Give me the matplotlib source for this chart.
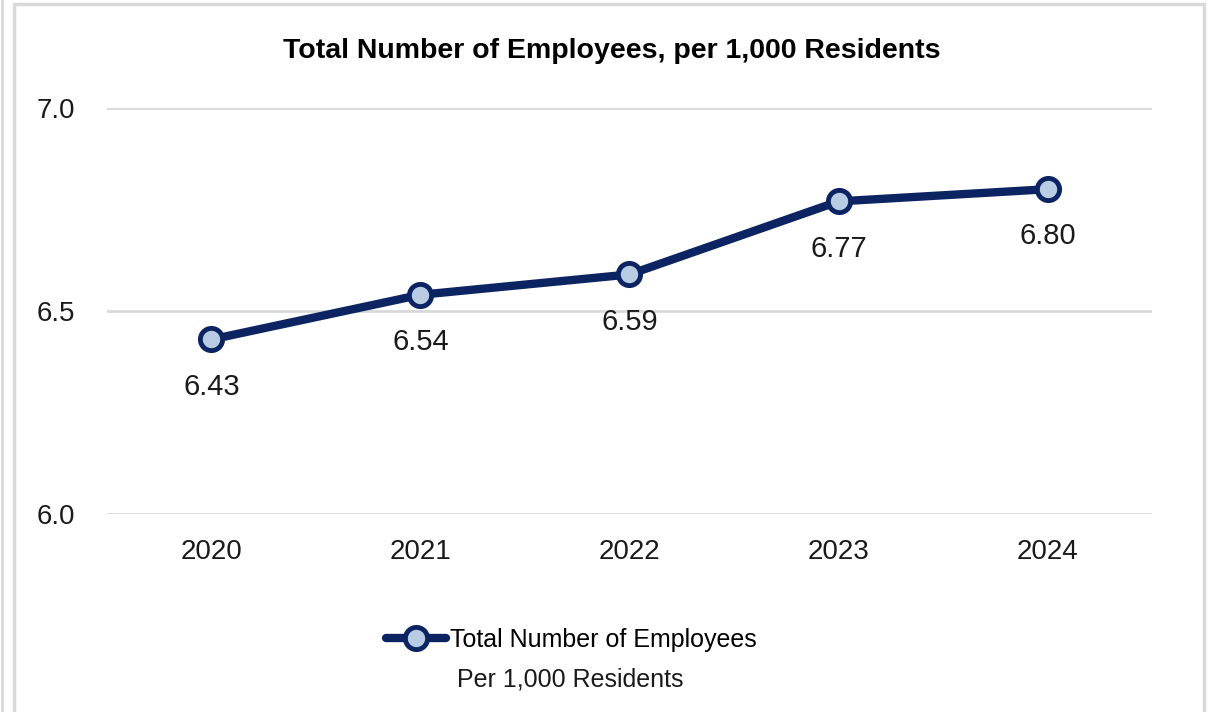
import matplotlib.pyplot as plt
from matplotlib.patches import Rectangle
from matplotlib.lines import Line2D

years = ['2020', '2021', '2022', '2023', '2024']
employees = [6.43, 6.54, 6.59, 6.77, 6.80]
y_ticks = [6.0, 6.5, 7.0]

navy = '#0c2461'
light = '#b8cce4'
grid_c = '#d9d9d9'

plt.rcParams['font.family'] = ['Liberation Sans', 'DejaVu Sans']

fig = plt.figure(figsize=(12.17, 7.12), dpi=100)
ax = fig.add_axes([0.0879, 0.2781, 0.8587, 0.5702])

x = list(range(len(years)))
ax.plot(x, employees, color=navy, linewidth=6, marker='o', markersize=16,
        markerfacecolor=light, markeredgecolor=navy, markeredgewidth=3.5,
        solid_capstyle='round', zorder=3)

for xi, v in zip(x, employees):
    ax.annotate(f'{v:.2f}', (xi, v), xytext=(0, -34), textcoords='offset points',
                ha='center', va='center', fontsize=21, color='#1a1a1a')

ax.set_xlim(-0.5, len(years) - 0.5)
ax.set_ylim(6.0, 7.0)
ax.set_yticks(y_ticks)
ax.set_yticklabels([f'{t:.1f}' for t in y_ticks])
ax.set_xticks(x)
ax.set_xticklabels(years)
ax.tick_params(axis='both', length=0, labelsize=20, colors='#1a1a1a')
ax.tick_params(axis='y', pad=23)
ax.tick_params(axis='x', pad=18)
ax.yaxis.grid(True, color=grid_c, linewidth=2)
ax.set_axisbelow(True)
for s in ax.spines.values():
    s.set_visible(False)

fig.text(0.503, 0.928, 'Total Number of Employees, per 1,000 Residents',
         ha='center', va='center', fontsize=20.5, fontweight='bold')

# legend: handle sits on the first line, second line wraps underneath
handle = Line2D([], [], color=navy, linewidth=6, marker='o', markersize=16,
                markerfacecolor=light, markeredgecolor=navy, markeredgewidth=3.5,
                solid_capstyle='round')
fig.legend([handle], ['Total Number of Employees'],
           loc='center left', bbox_to_anchor=(0.307, 0.101), frameon=False,
           fontsize=18, handlelength=2.4, handletextpad=0.15, borderpad=0)
fig.text(0.3755, 0.046, 'Per 1,000 Residents', ha='left', va='center',
         fontsize=18, color='#1a1a1a')

# outer frame
fig.patches.append(Rectangle((14 / 1217, -0.01), (1204 - 14) / 1217, 1 - 4 / 712 + 0.01,
                             transform=fig.transFigure, fill=False,
                             edgecolor=grid_c, linewidth=2.5))
fig.add_artist(Line2D([2 / 1217, 2 / 1217], [0, 1], transform=fig.transFigure,
                      color=grid_c, linewidth=2))

fig.savefig('out.png', dpi=100)
